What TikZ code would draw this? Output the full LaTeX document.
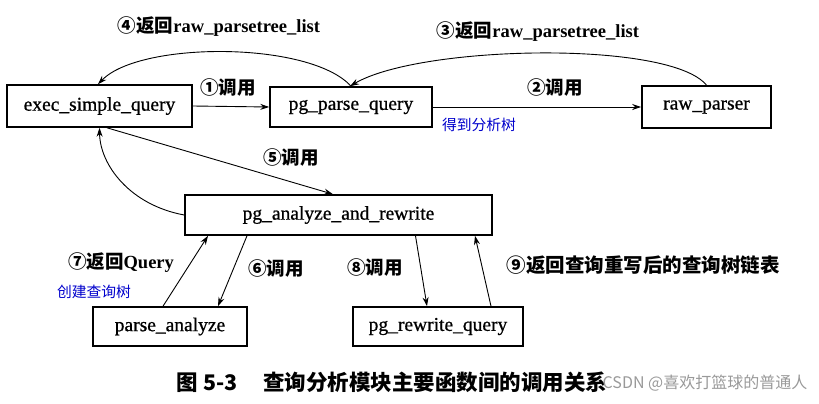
\documentclass[tikz,border=0pt]{standalone}
\usepackage{fontspec}
\setmainfont{Liberation Serif}
\newfontfamily\cjk{Noto Sans CJK SC}
\newfontfamily\boxfont[FakeBold=0.8]{Liberation Serif}
\usetikzlibrary{arrows.meta}
\newcommand\cjb[1]{{\cjk\bfseries #1}}
\begin{document}
\begin{tikzpicture}[x=1pt,y=-1pt,
  fbox/.style={draw,line width=1.6pt,inner sep=0pt,font=\boxfont\fontsize{19.5}{21}\selectfont},
  arr/.style={line width=0.9pt,-{Stealth[length=9pt,width=6pt]}},
  lab/.style={inner sep=0pt,font=\fontsize{18.5}{20}\selectfont\bfseries},
  note/.style={inner sep=0pt,text=blue!80!black,font=\cjk\fontsize{14.8}{16}\selectfont}]
\useasboundingbox (0,0) rectangle (819,404);
% boxes
\node[fbox,minimum width=185pt,minimum height=42pt] (exec) at (99.5,106) {exec\_simple\_query};
\node[fbox,minimum width=162pt,minimum height=40pt] (pgparse) at (351,107) {pg\_parse\_query};
\node[fbox,minimum width=129pt,minimum height=42pt] (raw) at (706.5,107) {raw\_parser};
\node[fbox,minimum width=307pt,minimum height=40pt] (analyze) at (338.5,215) {pg\_analyze\_and\_rewrite};
\node[fbox,minimum width=154pt,minimum height=39pt] (parse) at (170,326.5) {parse\_analyze};
\node[fbox,minimum width=170pt,minimum height=39pt] (rewrite) at (438,326.5) {pg\_rewrite\_query};
% connectors
\draw[arr] (exec.east) -- (pgparse.west);
\draw[arr] (pgparse.east) -- (raw.west);
\draw[arr] (raw.north) .. controls (670,40) and (420,45) .. ([xshift=-1pt]pgparse.north);
\draw[arr] (pgparse.north) .. controls (310,41) and (140,41) .. ([xshift=-1.5pt]exec.north);
\draw[arr] ([xshift=7.5pt]exec.south) -- ([xshift=-5.5pt]analyze.north);
\draw[arr] (analyze.west) .. controls (130,205) and (100,165) .. (exec.south);
\draw[arr] ([xshift=-91.5pt]analyze.south) -- ([xshift=48pt]parse.north);
\draw[arr] ([xshift=-7pt]parse.north) -- ([xshift=-130.5pt]analyze.south);
\draw[arr] ([xshift=77pt]analyze.south) -- ([xshift=-11pt]rewrite.north);
\draw[arr] ([xshift=53pt]rewrite.north) -- ([xshift=136.5pt]analyze.south);
% labels
\node[lab] (l4) at (219,27) {\cjb{④返回}raw\_parsetree\_list};
\node[lab] (l3) at (538,32) {\cjb{③返回}raw\_parsetree\_list};
\node[lab] (l1) at (228,88) {\cjb{①调用}};
\node[lab] (l2) at (555,88) {\cjb{②调用}};
\node[note] (n1) at (479,125) {得到分析树};
\node[lab] (l5) at (291,158) {\cjb{⑤调用}};
\node[lab] (l7) at (121,263) {\cjb{⑦返回}Query};
\node[note] (n2) at (94,292) {创建查询树};
\node[lab] (l6) at (276,269) {\cjb{⑥调用}};
\node[lab] (l8) at (375,268) {\cjb{⑧调用}};
\node[lab,font=\fontsize{19.5}{21}\selectfont] (l9) at (643,265) {\cjb{⑨返回查询重写后的查询树链表}};
\node[inner sep=0pt,font=\fontsize{21.5}{23}\selectfont] (cap) at (392,382) {\cjb{图 5-3\hspace{1.2em}查询分析模块主要函数间的调用关系}};
\node[inner sep=0pt,text=black!40,font=\cjk\fontsize{16}{18}\selectfont] (wm) at (705,383) {CSDN @喜欢打篮球的普通人};
\end{tikzpicture}
\end{document}
